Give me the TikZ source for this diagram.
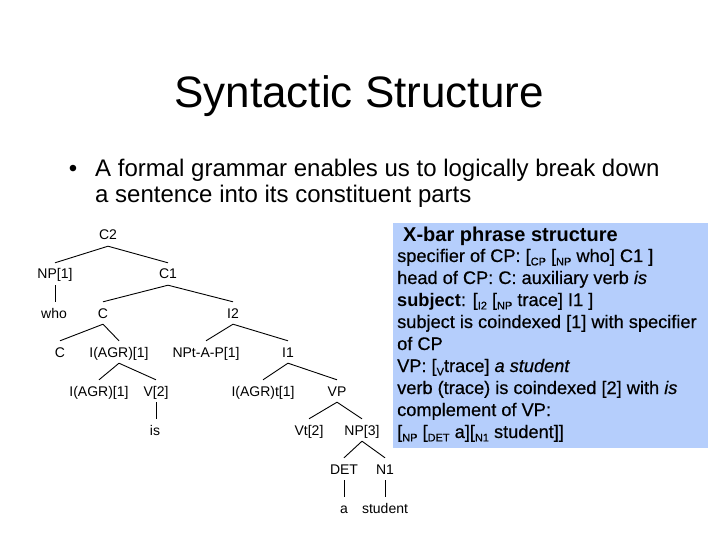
\documentclass[tikz,border=0pt]{standalone}
\usepackage{fontspec}
\setmainfont{Liberation Sans}
\newfontfamily\boxfont{Liberation Sans}[FakeBold=0.45]
\definecolor{boxblue}{RGB}{181,206,252}
\newcommand\sbs[1]{\raisebox{-0.35ex}{\fontsize{11bp}{11bp}\selectfont #1}}
\tikzset{
  tn/.style={font=\fontsize{14bp}{16bp}\selectfont, inner sep=0pt, text height=10bp, text depth=0pt, minimum height=22bp},
  edge/.style={line width=0.9bp, black},
  boxline/.style={anchor=base west, inner sep=0pt, font=\boxfont\fontsize{18.2bp}{21bp}\selectfont}
}
\begin{document}
\begin{tikzpicture}[x=1bp,y=-1bp]
\useasboundingbox (0,0) rectangle (720,540);
\fill[white] (0,0) rectangle (720,540);
% title
\node[anchor=base, inner sep=0pt, font=\fontsize{44bp}{52bp}\selectfont] (title) at (359,108) {Syntactic Structure};
% bullet
\node[anchor=base, inner sep=0pt, font=\fontsize{24bp}{28bp}\selectfont] (bul) at (73,177) {•};
\node[anchor=base west, inner sep=0pt, font=\fontsize{24bp}{28bp}\selectfont] (b1) at (95,177) {A formal grammar enables us to logically break down};
\node[anchor=base west, inner sep=0pt, font=\fontsize{24bp}{28bp}\selectfont] (b2) at (95,203) {a sentence into its constituent parts};
% info box
\fill[boxblue] (393,223) rectangle (708,448);
\node[anchor=base west, inner sep=0pt, font=\fontsize{20bp}{24bp}\selectfont\bfseries] (h) at (403,242) {X-bar phrase structure};
\node[boxline] (l1) at (397,262) {specifier of CP: [\sbs{CP} [\sbs{NP} who] C1 ]};
\node[boxline] (l2) at (397,284) {head of CP: C: auxiliary verb \textit{is}};
\node[boxline] (l3) at (397,306) {{\normalfont\fontsize{18.2bp}{21bp}\selectfont\bfseries subject}: [\sbs{I2} [\sbs{NP} trace] I1 ]};
\node[boxline] (l4) at (397,328) {subject is coindexed [1] with specifier};
\node[boxline] (l5) at (397,350) {of CP};
\node[boxline] (l6) at (397,372) {VP: [\sbs{V}trace] \textit{a student}};
\node[boxline] (l7) at (397,394) {verb (trace) is coindexed [2] with \textit{is}};
\node[boxline] (l8) at (397,416) {complement of VP:};
\node[boxline] (l9) at (397,438) {[\sbs{NP} [\sbs{DET} a][\sbs{N1} student]]};
% tree nodes
\node[tn] (C2) at (108,235) {C2};
\node[tn] (NP1) at (55,274) {NP[1]};
\node[tn] (C1) at (168,274) {C1};
\node[tn] (who) at (54,313) {who};
\node[tn] (Cbar) at (103,313) {C};
\node[tn] (I2) at (233,313) {I2};
\node[tn] (C0) at (60,352) {C};
\node[tn] (IAGR) at (119,352) {I(AGR)[1]};
\node[tn] (NPt) at (206,352) {NPt-A-P[1]};
\node[tn] (I1) at (288,352) {I1};
\node[tn] (IAGRb) at (99,391) {I(AGR)[1]};
\node[tn] (V2) at (156,391) {V[2]};
\node[tn] (IAGRt) at (263,391) {I(AGR)t[1]};
\node[tn] (VP) at (337,391) {VP};
\node[tn] (is) at (155,430) {is};
\node[tn] (Vt) at (309,430) {Vt[2]};
\node[tn] (NP3) at (362,430) {NP[3]};
\node[tn] (DET) at (344,469) {DET};
\node[tn] (N1) at (385,469) {N1};
\node[tn] (a) at (344,508) {a};
\node[tn] (student) at (385,508) {student};
% tree edges
\draw[edge] (C2.south) -- (NP1.north);
\draw[edge] (C2.south) -- (C1.north);
\draw[edge] (NP1.south) -- (NP1.south |- who.north);
\draw[edge] (C1.south) -- (Cbar.north);
\draw[edge] (C1.south) -- (I2.north);
\draw[edge] (Cbar.south) -- (C0.north);
\draw[edge] (Cbar.south) -- (IAGR.north);
\draw[edge] (I2.south) -- (NPt.north);
\draw[edge] (I2.south) -- (I1.north);
\draw[edge] (IAGR.south) -- (IAGRb.north);
\draw[edge] (IAGR.south) -- (V2.north);
\draw[edge] (V2.south) -- (V2.south |- is.north);
\draw[edge] (I1.south) -- (IAGRt.north);
\draw[edge] (I1.south) -- (VP.north);
\draw[edge] (VP.south) -- (Vt.north);
\draw[edge] (VP.south) -- (NP3.north);
\draw[edge] (NP3.south) -- (DET.north);
\draw[edge] (NP3.south) -- (N1.north);
\draw[edge] (DET.south) -- (a.north);
\draw[edge] (N1.south) -- (student.north);
\end{tikzpicture}
\end{document}
